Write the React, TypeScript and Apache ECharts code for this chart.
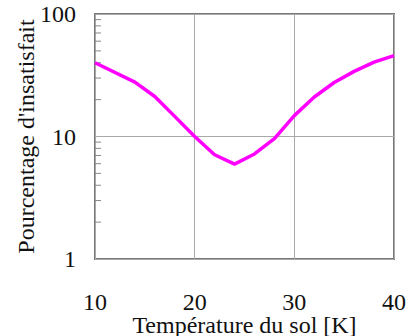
import React, { useEffect, useRef } from "react";
import * as echarts from "echarts";

const temperatures = [10, 14, 16, 18, 20, 22, 24, 26, 28, 30, 32, 34, 36, 38, 40];
const dissatisfied = [40, 27.8, 21.2, 14.6, 10, 7.1, 5.95, 7.2, 9.6, 14.8, 21, 27.6, 34, 40.5, 45.8];
const minorTickValues = [2, 3, 4, 5, 6, 7, 8, 9, 20, 30, 40, 50, 60, 70, 80, 90];
const X_MIN = 10;
const X_MAX = 40;
const X_TITLE = "Température du sol [K]";
const Y_TITLE = "Pourcentage d'insatisfait";

const FONT = "'Liberation Serif', 'Times New Roman', serif";

export default function App() {
  const ref = useRef<HTMLDivElement>(null);
  useEffect(() => {
    if (!ref.current) return;
    const chart = echarts.init(ref.current, undefined, { renderer: "svg" });
    chart.setOption({
      animation: false,
      backgroundColor: "#ffffff",
      grid: {
        left: 95,
        right: 14,
        top: 14,
        bottom: 77,
        containLabel: false,
        outerBoundsMode: "none",
        show: true,
        borderColor: "#777777",
        borderWidth: 2,
        backgroundColor: "transparent",
      },
      xAxis: {
        type: "value",
        min: X_MIN,
        max: X_MAX,
        interval: 10,
        axisLine: { show: false },
        axisTick: { show: false },
        splitLine: { show: true, lineStyle: { color: "#aaaaaa", width: 1 } },
        axisLabel: { fontFamily: FONT, fontSize: 24, lineHeight: 22, color: "#111", margin: 32 },
        name: X_TITLE,
        nameLocation: "middle",
        nameGap: 55,
        nameMoveOverlap: false,
        nameTextStyle: { fontFamily: FONT, fontSize: 24, lineHeight: 22, color: "#111" },
      },
      yAxis: {
        type: "log",
        logBase: 10,
        min: 1,
        max: 100,
        axisLine: { show: false },
        axisTick: { show: false },
        splitLine: { show: true, lineStyle: { color: "#aaaaaa", width: 1 } },
        axisLabel: { fontFamily: FONT, fontSize: 24, color: "#111", margin: 19 },
        name: Y_TITLE,
        nameLocation: "middle",
        nameRotate: 90,
        nameGap: 57,
        nameMoveOverlap: false,
        nameTextStyle: { fontFamily: FONT, fontSize: 24, color: "#111" },
      },
      series: [
        {
          type: "custom",
          silent: true,
          data: minorTickValues.map((v) => [X_MIN, v]),
          renderItem: (params: any, api: any) => {
            const p = api.coord([api.value(0), api.value(1)]);
            return {
              type: "line",
              shape: { x1: p[0], y1: p[1], x2: p[0] + 6, y2: p[1] },
              style: { stroke: "#888888", lineWidth: 1 },
            };
          },
        },
        {
          type: "line",
          data: temperatures.map((t, i) => [t, dissatisfied[i]]),
          showSymbol: false,
          symbol: "none",
          lineStyle: { color: "#ff00ff", width: 3.5 },
          z: 5,
        },
      ],
    });
    return () => chart.dispose();
  }, []);
  return (
    <div
      ref={ref}
      style={{ position: "absolute", left: 0, top: 0, width: 408, height: 336 }}
    />
  );
}
